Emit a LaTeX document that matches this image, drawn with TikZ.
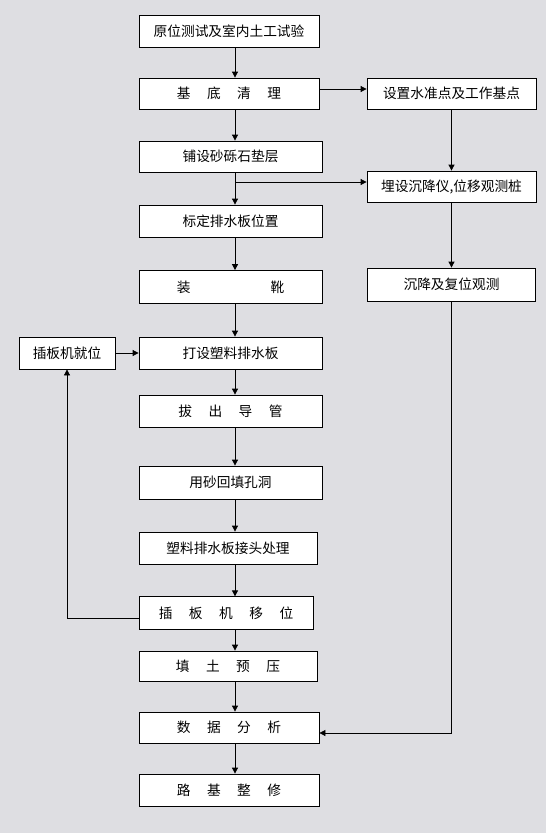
\documentclass[tikz,border=0pt]{standalone}
\usepackage{fontspec}
\newfontfamily\cjk{Noto Sans CJK SC}
\usepackage{tikz}
\usetikzlibrary{positioning,arrows.meta,calc}
\definecolor{marble}{RGB}{222,222,226}
\newcommand{\gap}{\hspace{16.5pt}}

\begin{document}
\begin{tikzpicture}[x=1pt,y=-1pt,
  box/.style={draw,fill=white,line width=0.8pt,minimum height=32pt,inner sep=0pt,font=\cjk\fontsize{13.7}{16}\selectfont},
  arr/.style={line width=0.8pt,-{Triangle[length=6pt,width=6pt]}}]
% marble-like background, fixes the margins
\fill[marble] (0,0) rectangle (546,833);
\useasboundingbox (0,0) rectangle (546,833);
% main column of steps
\node[box,minimum width=180pt] (n1) at (229,31) {原位测试及室内土工试验};
\node[box,minimum width=180pt,minimum height=31pt] (n2) at (229,93.5) {基\gap{}底\gap{}清\gap{}理};
\node[box,minimum width=183pt,minimum height=31pt] (n3) at (230.5,156.5) {铺设砂砾石垫层};
\node[box,minimum width=183pt] (n4) at (230.5,221) {标定排水板位置};
\node[box,minimum width=183pt,minimum height=33pt] (n5) at (230.5,287) {装\hspace{80pt}靴};
\node[box,minimum width=183pt] (n6) at (230.5,353) {打设塑料排水板};
\node[box,minimum width=183pt] (n7) at (230.5,411) {拔\gap{}出\gap{}导\gap{}管};
\node[box,minimum width=183pt,minimum height=33pt] (n8) at (230.5,482.5) {用砂回填孔洞};
\node[box,minimum width=178pt] (n9) at (228,548) {塑料排水板接头处理};
\node[box,minimum width=174pt,minimum height=32.5pt] (n10) at (226,613) {插\gap{}板\gap{}机\gap{}移\gap{}位};
\node[box,minimum width=178pt,minimum height=30pt] (n11) at (228,666) {填\gap{}土\gap{}预\gap{}压};
\node[box,minimum width=180pt,minimum height=31pt] (n12) at (229,727.5) {数\gap{}据\gap{}分\gap{}析};
\node[box,minimum width=180pt] (n13) at (229,790) {路\gap{}基\gap{}整\gap{}修};
% monitoring column
\node[box,minimum width=169pt,minimum height=31pt] (r1) at (451.5,93.5) {设置水准点及工作基点};
\node[box,minimum width=169pt,minimum height=31pt] (r2) at (451.5,186.5) {埋设沉降仪,位移观测桩};
\node[box,minimum width=168pt,minimum height=33pt] (r3) at (451.5,284.5) {沉降及复位观测};
% machine loop
\node[box,minimum width=96pt] (l1) at (67,353) {插板机就位};
% centre line and junctions
\coordinate (cx) at (235,0);
\coordinate (j1) at (235,182);
\coordinate (j2) at (67,618.5);
\coordinate (j3) at (451.5,733);
% main flow
\foreach \a/\b in {n1/n2,n2/n3,n3/n4,n4/n5,n5/n6,n6/n7,n7/n8,n8/n9,n9/n10,n10/n11,n11/n12,n12/n13}
  \draw[arr] (\a.south -| cx) -- (\b.north -| cx);
% side branches
\draw[arr] ([yshift=4.5pt]n2.east) -- ([yshift=4.5pt]n2.east -| r1.west);
\draw[arr] (r1.south) -- (r2.north);
\draw[arr] (j1) -- (j1 -| r2.west);
\draw[arr] (r2.south) -- (r3.north);
\draw[arr] (r3.south) -- (j3) -- (j3 -| n12.east);
\draw[arr] (l1.east) -- (n6.west);
\draw[arr] (j2 -| n10.west) -- (j2) -- (l1.south);
\end{tikzpicture}
\end{document}
